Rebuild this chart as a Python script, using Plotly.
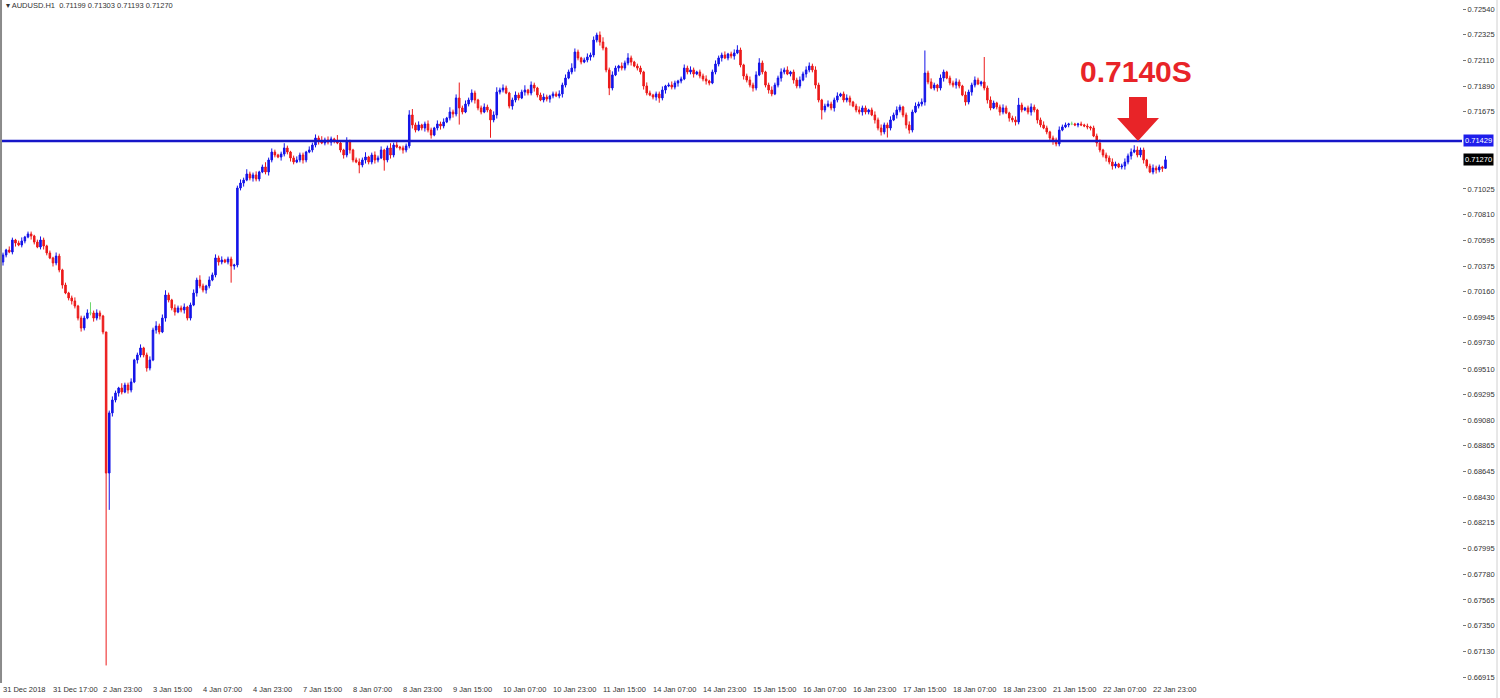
import plotly.graph_objects as go

symbol = "AUDUSD.H1"
x_labels = ["31 Dec 2018", "31 Dec 17:00", "2 Jan 23:00", "3 Jan 15:00", "4 Jan 07:00",
            "4 Jan 23:00", "7 Jan 15:00", "8 Jan 07:00", "8 Jan 23:00", "9 Jan 15:00",
            "10 Jan 07:00", "10 Jan 23:00", "11 Jan 15:00", "14 Jan 07:00", "14 Jan 23:00",
            "15 Jan 15:00", "16 Jan 07:00", "16 Jan 23:00", "17 Jan 15:00", "18 Jan 07:00",
            "18 Jan 23:00", "21 Jan 15:00", "22 Jan 07:00", "22 Jan 23:00"]
label_every = 16
price_ticks = [0.72540, 0.72325, 0.72110, 0.71890, 0.71675, 0.71025, 0.70810, 0.70595,
               0.70375, 0.70160, 0.69945, 0.69730, 0.69510, 0.69295, 0.69080, 0.68865,
               0.68645, 0.68430, 0.68215, 0.67995, 0.67780, 0.67565, 0.67350, 0.67130, 0.66915]
level = 0.71429
level_text = "0.7140S"

first_open = 0.70410
closes = [
    0.70469, 0.70511, 0.70494, 0.70595, 0.70570, 0.70553, 0.70587, 0.70620, 0.70646, 0.70629,
    0.70578, 0.70536, 0.70595, 0.70545, 0.70486, 0.70444, 0.70402, 0.70460, 0.70343, 0.70216,
    0.70149, 0.70107, 0.70082, 0.70039, 0.69938, 0.69854, 0.69938, 0.69981, 0.69981, 0.69938,
    0.69981, 0.69955, 0.69821, 0.68633, 0.69139, 0.69248, 0.69307, 0.69349, 0.69315, 0.69374,
    0.69332, 0.69400, 0.69585, 0.69627, 0.69686, 0.69627, 0.69517, 0.69585, 0.69837, 0.69871,
    0.69821, 0.69938, 0.70132, 0.70090, 0.70023, 0.69989, 0.70023, 0.70006, 0.70031, 0.69938,
    0.70048, 0.70149, 0.70258, 0.70208, 0.70174, 0.70208, 0.70258, 0.70301, 0.70444, 0.70410,
    0.70427, 0.70410, 0.70435, 0.70376, 0.70385, 0.71033, 0.71075, 0.71100, 0.71151, 0.71117,
    0.71143, 0.71109, 0.71168, 0.71210, 0.71168, 0.71269, 0.71336, 0.71311, 0.71294, 0.71319,
    0.71370, 0.71336, 0.71286, 0.71252, 0.71269, 0.71311, 0.71269, 0.71336, 0.71353, 0.71395,
    0.71454, 0.71429, 0.71412, 0.71437, 0.71420, 0.71446, 0.71429, 0.71412, 0.71353, 0.71311,
    0.71420, 0.71353, 0.71269, 0.71252, 0.71227, 0.71269, 0.71294, 0.71252, 0.71311, 0.71269,
    0.71286, 0.71353, 0.71269, 0.71370, 0.71311, 0.71395, 0.71378, 0.71370, 0.71353, 0.71387,
    0.71648, 0.71564, 0.71521, 0.71564, 0.71538, 0.71572, 0.71521, 0.71479, 0.71538, 0.71572,
    0.71555, 0.71589, 0.71622, 0.71673, 0.71656, 0.71791, 0.71707, 0.71673, 0.71740, 0.71774,
    0.71833, 0.71774, 0.71707, 0.71673, 0.71715, 0.71690, 0.71606, 0.71648, 0.71841, 0.71858,
    0.71875, 0.71833, 0.71723, 0.71774, 0.71816, 0.71791, 0.71841, 0.71858, 0.71833, 0.71900,
    0.71875, 0.71816, 0.71774, 0.71799, 0.71782, 0.71808, 0.71825, 0.71808, 0.71825, 0.71900,
    0.71959, 0.72010, 0.72043, 0.72178, 0.72128, 0.72094, 0.72111, 0.72136, 0.72153, 0.72279,
    0.72321, 0.72262, 0.72212, 0.72027, 0.71875, 0.71985, 0.72043, 0.72060, 0.72043, 0.72086,
    0.72128, 0.72094, 0.72060, 0.72043, 0.72010, 0.71892, 0.71833, 0.71816, 0.71799, 0.71825,
    0.71791, 0.71858, 0.71892, 0.71900, 0.71883, 0.71917, 0.71934, 0.71951, 0.72043, 0.72010,
    0.72027, 0.71993, 0.72010, 0.71976, 0.71951, 0.71934, 0.71917, 0.72010, 0.72077, 0.72128,
    0.72153, 0.72128, 0.72161, 0.72144, 0.72170, 0.72195, 0.72069, 0.71976, 0.71942, 0.71900,
    0.71875, 0.71985, 0.72086, 0.72010, 0.71900, 0.71858, 0.71825, 0.71900, 0.71959, 0.72010,
    0.72027, 0.71993, 0.72010, 0.71942, 0.71892, 0.71942, 0.71993, 0.72027, 0.72060, 0.72027,
    0.71900, 0.71774, 0.71690, 0.71723, 0.71740, 0.71707, 0.71774, 0.71808, 0.71825, 0.71774,
    0.71791, 0.71757, 0.71723, 0.71690, 0.71673, 0.71707, 0.71673, 0.71690, 0.71648, 0.71606,
    0.71538, 0.71505, 0.71564, 0.71538, 0.71606, 0.71648, 0.71690, 0.71715, 0.71648, 0.71564,
    0.71521, 0.71673, 0.71723, 0.71740, 0.71757, 0.72001, 0.71926, 0.71875, 0.71900, 0.71875,
    0.71959, 0.72010, 0.71959, 0.71917, 0.71900, 0.71926, 0.71892, 0.71816, 0.71757, 0.71841,
    0.71900, 0.71942, 0.71909, 0.71926, 0.71875, 0.71774, 0.71707, 0.71749, 0.71715, 0.71673,
    0.71707, 0.71665, 0.71622, 0.71606, 0.71589, 0.71732, 0.71690, 0.71707, 0.71673, 0.71715,
    0.71690, 0.71606, 0.71564, 0.71538, 0.71505, 0.71454, 0.71437, 0.71404, 0.71521, 0.71547,
    0.71564, 0.71572, 0.71572, 0.71564, 0.71572, 0.71564, 0.71555, 0.71547, 0.71538, 0.71471,
    0.71412, 0.71353, 0.71311, 0.71286, 0.71252, 0.71218, 0.71235, 0.71210, 0.71218, 0.71252,
    0.71303, 0.71336, 0.71353, 0.71311, 0.71353, 0.71269, 0.71218, 0.71168, 0.71201, 0.71185,
    0.71210, 0.71199, 0.71270,
]
upper_wick_pips = [
    2, 1, 3, 2, 1, 2, 3, 1, 2, 2,
    1, 2, 3, 2, 1, 2, 1, 3, 2, 1,
    2, 1, 2, 3, 1, 2, 2, 3, 9, 2,
    3, 2, 1, 0, 2, 3, 2, 1, 4, 2,
    2, 3, 1, 2, 3, 1, 2, 3, 2, 4,
    2, 3, 4, 2, 1, 3, 2, 2, 3, 1,
    2, 3, 2, 4, 2, 1, 3, 2, 3, 2,
    3, 1, 2, 2, 1, 2, 3, 2, 4, 2,
    2, 3, 1, 2, 4, 2, 3, 2, 1, 2,
    4, 2, 1, 2, 3, 2, 2, 1, 3, 2,
    3, 2, 4, 2, 3, 2, 1, 5, 2, 1,
    4, 2, 1, 2, 3, 2, 4, 1, 2, 3,
    2, 3, 1, 2, 4, 2, 3, 1, 2, 2,
    4, 5, 2, 3, 1, 2, 3, 2, 1, 3,
    2, 3, 1, 4, 2, 3, 13, 2, 3, 2,
    3, 2, 1, 2, 3, 2, 1, 3, 4, 2,
    3, 2, 1, 2, 3, 2, 2, 4, 1, 3,
    2, 1, 2, 3, 2, 1, 2, 2, 3, 2,
    3, 2, 4, 3, 2, 1, 2, 3, 2, 3,
    2, 3, 4, 1, 2, 3, 2, 1, 3, 2,
    4, 2, 1, 2, 2, 1, 3, 2, 1, 2,
    2, 3, 1, 2, 3, 2, 1, 2, 3, 2,
    3, 2, 1, 2, 2, 3, 1, 2, 3, 2,
    2, 3, 1, 2, 3, 4, 2, 1, 2, 3,
    2, 3, 4, 2, 1, 2, 3, 2, 2, 3,
    2, 3, 1, 2, 2, 3, 2, 3, 3, 2,
    3, 2, 1, 2, 3, 2, 2, 3, 1, 2,
    3, 2, 1, 2, 3, 2, 2, 1, 2, 3,
    2, 3, 2, 2, 3, 2, 3, 2, 1, 2,
    3, 2, 3, 2, 3, 19, 2, 3, 2, 1,
    3, 2, 1, 2, 2, 3, 2, 1, 3, 2,
    2, 3, 2, 1, 21, 2, 3, 2, 1, 2,
    3, 2, 1, 2, 3, 6, 2, 1, 2, 3,
    2, 1, 2, 3, 2, 1, 2, 2, 3, 2,
    2, 1, 2, 1, 1, 2, 1, 2, 1, 2,
    2, 3, 1, 2, 2, 3, 2, 1, 2, 3,
    2, 3, 4, 3, 2, 2, 1, 2, 3, 2,
    2, 1, 3.3,
]
lower_wick_pips = [
    3, 2, 1, 2, 3, 1, 2, 2, 1, 3,
    2, 1, 2, 3, 2, 1, 3, 2, 2, 3,
    1, 2, 3, 2, 2, 3, 2, 1, 2, 3,
    2, 3, 2, 162, 31, 3, 2, 3, 2, 1,
    3, 2, 1, 3, 2, 2, 3, 2, 1, 3,
    2, 1, 3, 2, 2, 3, 1, 2, 3, 2,
    2, 1, 3, 2, 2, 3, 2, 1, 2, 3,
    2, 1, 2, 14, 3, 2, 2, 3, 1, 2,
    3, 2, 2, 1, 2, 3, 2, 2, 1, 3,
    2, 2, 3, 2, 1, 2, 3, 2, 1, 2,
    2, 3, 1, 2, 2, 3, 2, 1, 2, 3,
    2, 3, 2, 1, 7, 2, 3, 2, 2, 3,
    2, 1, 9, 2, 3, 2, 1, 2, 3, 2,
    2, 3, 2, 1, 2, 3, 2, 3, 1, 2,
    3, 2, 1, 2, 3, 2, 14, 2, 1, 2,
    2, 3, 2, 2, 1, 2, 15, 2, 3, 2,
    2, 1, 2, 3, 2, 2, 1, 3, 2, 2,
    3, 2, 1, 2, 2, 3, 2, 1, 2, 3,
    2, 1, 2, 3, 2, 2, 1, 2, 3, 2,
    2, 3, 2, 2, 6, 2, 1, 3, 2, 2,
    2, 3, 1, 2, 2, 3, 2, 1, 2, 3,
    4, 2, 3, 1, 2, 2, 3, 2, 1, 2,
    2, 3, 1, 2, 2, 3, 2, 1, 2, 2,
    3, 1, 2, 2, 3, 1, 2, 3, 2, 2,
    3, 2, 1, 2, 2, 3, 2, 1, 2, 3,
    2, 1, 2, 3, 2, 2, 1, 3, 2, 2,
    3, 2, 8, 2, 1, 2, 3, 2, 1, 2,
    2, 3, 1, 2, 2, 3, 2, 2, 1, 3,
    2, 3, 2, 8, 2, 1, 3, 2, 2, 3,
    3, 2, 1, 2, 2, 3, 2, 1, 2, 3,
    2, 3, 1, 2, 2, 3, 2, 1, 3, 2,
    3, 2, 1, 2, 2, 3, 2, 1, 2, 3,
    2, 1, 3, 2, 3, 2, 2, 1, 2, 3,
    2, 3, 2, 1, 2, 3, 4, 2, 2, 1,
    1, 2, 1, 1, 2, 1, 1, 2, 2, 1,
    3, 2, 2, 3, 2, 3, 2, 1, 2, 3,
    2, 3, 1, 2, 2, 3, 2, 1, 2, 3,
    2, 3, 0.6,
]

# ---- build OHLC ----
n = min(len(closes), len(upper_wick_pips), len(lower_wick_pips))
closes = closes[:n]
opens = [first_open] + closes[:n - 1]
highs = [max(o, c) + u * 1e-4 for o, c, u in zip(opens, closes, upper_wick_pips)]
lows = [min(o, c) - d * 1e-4 for o, c, d in zip(opens, closes, lower_wick_pips)]
idx = list(range(n))

BLUE = "rgb(20,20,232)"
RED = "rgb(236,26,26)"
GREEN = "rgb(110,215,110)"
LINE_BLUE = "rgb(22,22,200)"
ARROW_RED = "rgb(232,36,40)"

norm = [i for i in idx if abs(closes[i] - opens[i]) > 1e-9]
doji = [i for i in idx if abs(closes[i] - opens[i]) <= 1e-9]

fig = go.Figure()
fig.add_trace(go.Candlestick(
    x=norm,
    open=[opens[i] for i in norm], high=[highs[i] for i in norm],
    low=[lows[i] for i in norm], close=[closes[i] for i in norm],
    increasing=dict(line=dict(color=BLUE, width=1), fillcolor=BLUE),
    decreasing=dict(line=dict(color=RED, width=1), fillcolor=RED),
    whiskerwidth=0, hoverinfo="skip", showlegend=False,
))
dx, dy = [], []
for i in doji:
    dx += [i, i, None, i - 0.35, i + 0.35, None]
    dy += [lows[i], highs[i], None, opens[i], opens[i], None]
fig.add_trace(go.Scatter(x=dx, y=dy, mode="lines", line=dict(color=GREEN, width=1),
                         hoverinfo="skip", showlegend=False))

# pixel geometry of the MT4 window
W, H = 1500, 698
plot_right_px = 1462
plot_bottom_px = 683
px_per_bar = 3.125
bar0_px = 3
price_top = 0.72616
price_per_px = 0.0000842
x_range = [(0 - bar0_px) / px_per_bar, (plot_right_px - bar0_px) / px_per_bar]
y_range = [price_top - plot_bottom_px * price_per_px, price_top]

def bx(p):
    return (p - bar0_px) / px_per_bar

def py(p):
    return price_top - p * price_per_px

font_fam = "Liberation Sans, Arial, sans-serif"

fig.update_layout(
    width=W, height=H,
    margin=dict(l=0, r=W - plot_right_px, t=0, b=H - plot_bottom_px, autoexpand=False),
    paper_bgcolor="white", plot_bgcolor="white",
    boxgap=0.3,
    xaxis=dict(range=x_range, rangeslider=dict(visible=False), showgrid=False, zeroline=False,
               tickvals=[k * label_every for k in range(len(x_labels))], ticktext=x_labels,
               ticklabelposition="outside right", ticks="", showline=False, tickangle=0,
               automargin=False,
               tickfont=dict(family=font_fam, size=7.5, color="#333333"), fixedrange=True),
    yaxis=dict(range=y_range, side="right", showgrid=False, zeroline=False,
               tickvals=price_ticks, ticktext=[f"{v:.5f}" for v in price_ticks],
               ticks="outside", ticklen=3, tickcolor="#777777", showline=False,
               automargin=False,
               tickfont=dict(family=font_fam, size=7.5, color="#333333")),
    font=dict(family=font_fam),
)

# support / resistance level
fig.add_shape(type="line", xref="paper", yref="y", x0=0, x1=1, y0=level, y1=level,
              line=dict(color=LINE_BLUE, width=2.5))
# left and right window borders
fig.add_shape(type="line", xref="paper", yref="paper", x0=0.0007, x1=0.0007, y0=0, y1=1,
              line=dict(color="#8a8a8a", width=2))
fig.add_shape(type="line", xref="paper", yref="paper", x0=1497 / plot_right_px, x1=1497 / plot_right_px,
              y0=-0.03, y1=1, line=dict(color="#d0d0d0", width=1))

# price labels on the scale
fig.add_annotation(xref="paper", x=1, xanchor="left", xshift=1, y=level, yref="y",
                   text=f"{level:.5f}", showarrow=False, bgcolor="rgb(30,30,235)",
                   font=dict(color="white", size=7.5, family=font_fam), borderpad=1)
fig.add_annotation(xref="paper", x=1, xanchor="left", xshift=1, y=closes[-1], yref="y",
                   text=f"{closes[-1]:.5f}", showarrow=False, bgcolor="black",
                   font=dict(color="white", size=7.5, family=font_fam), borderpad=1)

# header
fig.add_annotation(xref="paper", yref="paper", x=0.003, y=1 - 6 / plot_bottom_px,
                   xanchor="left", yanchor="middle", showarrow=False,
                   text=f"\u25be {symbol}  {opens[-1]:.5f} {highs[-1]:.5f} {lows[-1]:.5f} {closes[-1]:.5f}",
                   font=dict(size=7.5, color="#333333", family=font_fam))

# big call-out text and arrow
fig.add_annotation(x=bx(1136), y=py(71), xref="x", yref="y", text=f"<b>{level_text}</b>",
                   showarrow=False, font=dict(size=30, color=ARROW_RED, family=font_fam))
arrow = [(1138, 141), (1117, 118), (1129, 118), (1129, 97), (1147, 97), (1147, 118), (1159, 118)]
path = "M " + " L ".join(f"{bx(a):.3f},{py(b):.6f}" for a, b in arrow) + " Z"
fig.add_shape(type="path", xref="x", yref="y", path=path,
              fillcolor=ARROW_RED, line=dict(color=ARROW_RED, width=0))

fig.write_html("out.html", config={"displayModeBar": False},
               post_script="document.body.style.margin='0px';document.body.style.overflow='hidden';")
